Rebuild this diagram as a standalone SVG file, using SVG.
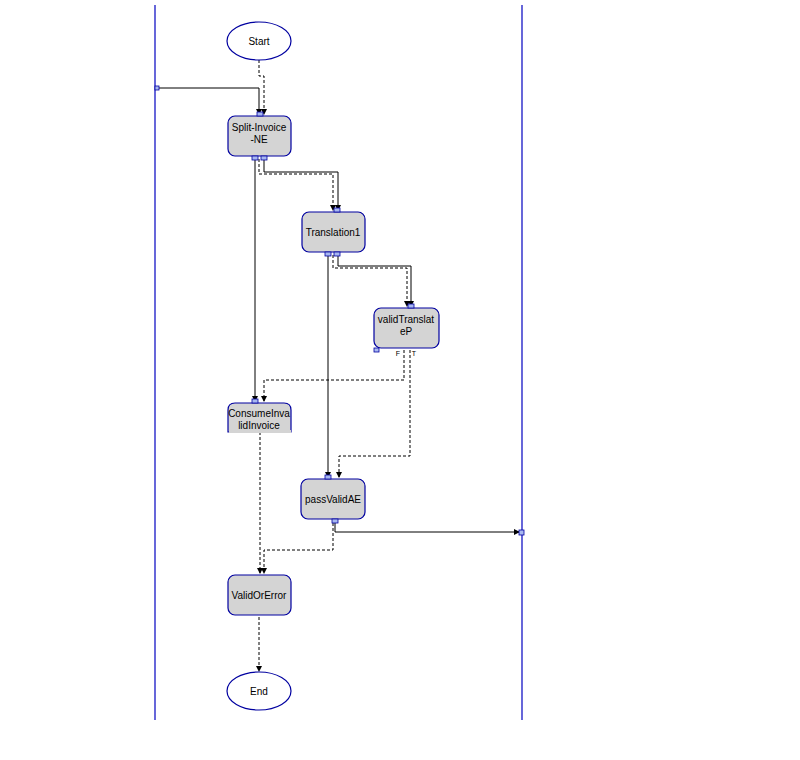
<svg xmlns="http://www.w3.org/2000/svg" width="800" height="760" viewBox="0 0 800 760">
<style>
.n{fill:#d4d4d4;stroke:#0000a0;stroke-width:1.2}
.e{fill:#fff;stroke:#0000a0;stroke-width:1.2}
.t{font-family:"Liberation Sans",Arial,sans-serif;font-size:10px;fill:#000;text-anchor:middle}
.s{fill:none;stroke:#000;stroke-width:1;marker-end:url(#a)}
.d{fill:none;stroke:#000;stroke-width:1;stroke-dasharray:3,2;marker-end:url(#a)}
.p{fill:#a8b8f0;stroke:#0000a0;stroke-width:0.8}
.lane{stroke:#0000c0;stroke-width:1.2}
</style>
<defs><marker id="a" markerWidth="6" markerHeight="6" refX="5" refY="3" orient="auto" markerUnits="userSpaceOnUse"><path d="M0,0L6,3L0,6z" fill="#000"/></marker></defs>
<rect width="800" height="760" fill="#fff"/>
<g id="lanes"><line class="lane" x1="155" y1="5" x2="155" y2="720"/><line class="lane" x1="522" y1="5" x2="522" y2="720"/></g>
<g id="connectors">
<path class="s" d="M158,88H259V114"/>
<path class="d" d="M259,60V76H264V114"/>
<path class="s" d="M255,159V401"/>
<path class="s" d="M264,159V172H338V210"/>
<path class="d" d="M259,159V174H333V210"/>
<path class="s" d="M328,255V477"/>
<path class="s" d="M338,255V266H411V306"/>
<path class="d" d="M333,255V268H407V306"/>
<path class="d" d="M404,350V380H264V401"/>
<path class="d" d="M410,350V456H339V477"/>
<path class="d" d="M260,432V573"/>
<path class="s" d="M335,523V532H519"/>
<path class="d" d="M333,523V550H264V573"/>
<path class="d" d="M259,617V671"/>
</g>
<g id="portL"><rect class="p" x="155" y="86" width="4" height="4"/></g>
<g id="portR"><rect class="p" x="519" y="530" width="5" height="5"/></g>
<g id="start"><ellipse class="e" cx="259" cy="41" rx="32" ry="19"/><text class="t" x="259" y="45">Start</text></g>
<g id="split"><rect class="n" x="228" y="116" width="63" height="40" rx="7"/><rect class="p" x="257" y="112" width="6" height="4"/><rect class="p" x="252" y="156" width="6" height="4"/><rect class="p" x="261" y="156" width="6" height="4"/><text class="t" x="259" y="131">Split-Invoice</text><text class="t" x="259" y="143">-NE</text></g>
<g id="translation1"><rect class="n" x="302" y="212" width="63" height="40" rx="7"/><rect class="p" x="334" y="208" width="6" height="4"/><rect class="p" x="325" y="252" width="6" height="4"/><rect class="p" x="334" y="252" width="6" height="4"/><text class="t" x="333" y="236">Translation1</text></g>
<g id="validTranslateP"><rect class="n" x="374" y="308" width="65" height="40" rx="7"/><rect class="p" x="408" y="304" width="6" height="4"/><rect class="p" x="374" y="348" width="5" height="4"/><text class="t" x="406" y="323">validTranslat</text><text class="t" x="406" y="335">eP</text><text class="t" x="398" y="356" style="font-size:7px">F</text><text class="t" x="414" y="356" style="font-size:7px">T</text></g>
<g id="consume"><path class="n" d="M228,432V410Q228,403 235,403H284Q291,403 291,410V432Z"/><rect fill="#d4d4d4" x="229" y="430" width="62" height="3"/><rect class="p" x="252" y="399" width="6" height="4"/><text class="t" x="259" y="417">ConsumeInva</text><text class="t" x="259" y="429">lidInvoice</text></g>
<g id="passValidAE"><rect class="n" x="301" y="479" width="64" height="40" rx="7"/><rect class="p" x="325" y="475" width="6" height="4"/><rect class="p" x="332" y="519" width="6" height="4"/><text class="t" x="333" y="503">passValidAE</text></g>
<g id="validOrError"><rect class="n" x="228" y="575" width="63" height="40" rx="7"/><text class="t" x="259" y="599">ValidOrError</text></g>
<g id="end"><ellipse class="e" cx="259" cy="691" rx="32" ry="19"/><text class="t" x="259" y="695">End</text></g>
</svg>
